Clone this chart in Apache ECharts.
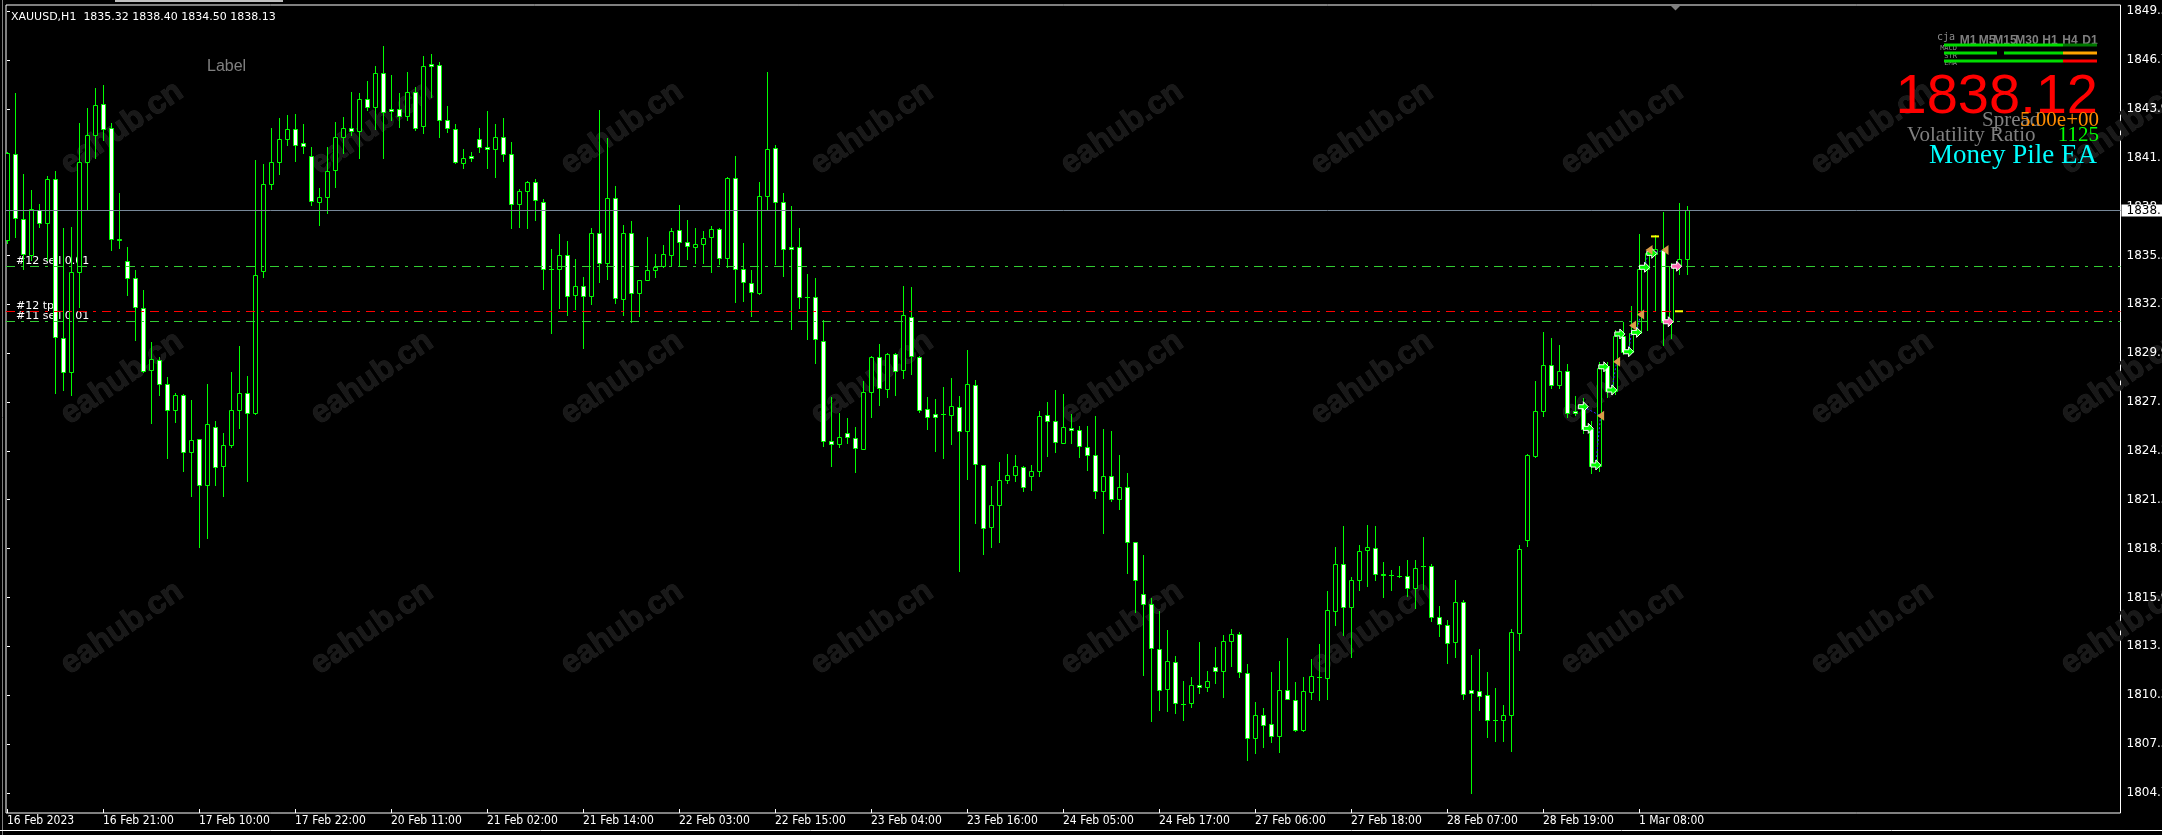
<!DOCTYPE html>
<html><head><meta charset="utf-8">
<script src="https://cdn.jsdelivr.net/npm/echarts@6/dist/echarts.min.js"></script>
<style>html,body{margin:0;padding:0;background:#000;overflow:hidden}#c{width:2162px;height:835px}</style>
</head><body><div id="c"></div>
<script>
// ---------------- DATA ----------------
const symbolName = 'XAUUSD,H1';
const opens = [
1836.43,1841.34,1837.65,1835.57,1838.17,1837.42,1839.91,1830.83,1828.85,1834.62,
1840.92,1842.43,1844.20,1842.83,1836.51,1835.21,1834.27,1832.51,1828.96,1829.57,
1828.21,1826.72,1827.53,1824.26,1825.01,1822.37,1825.73,1823.50,1824.68,1826.72,
1827.64,1826.50,1834.65,1839.62,1840.88,1842.20,1842.81,1841.97,1841.26,1838.64,
1838.87,1840.42,1842.33,1842.83,1842.68,1844.49,1844.05,1845.98,1843.92,1843.92,
1843.55,1844.93,1842.96,1846.50,1846.44,1843.29,1842.81,1840.82,1841.22,1842.24,
1841.74,1841.62,1842.31,1841.38,1838.47,1839.22,1839.77,1838.63,1834.80,1834.80,
1835.55,1833.26,1833.81,1833.20,1836.81,1835.09,1838.82,1833.03,1836.81,1833.37,
1834.17,1834.71,1834.96,1835.55,1836.98,1836.30,1836.05,1836.18,1836.58,1837.04,
1835.38,1839.98,1834.79,1833.98,1833.37,1838.97,1841.68,1838.59,1836.05,1836.05,
1833.18,1833.18,1830.66,1824.93,1824.72,1825.39,1825.11,1824.47,1827.70,1829.71,
1827.88,1829.88,1828.96,1832.04,1829.75,1826.73,1826.44,1826.44,1826.42,1826.84,
1825.47,1828.10,1823.52,1819.97,1821.23,1822.66,1822.95,1823.41,1822.89,1823.21,
1826.39,1826.08,1824.82,1825.68,1825.53,1824.59,1824.09,1822.05,1822.89,1821.57,
1822.26,1819.11,1816.13,1815.55,1813.00,1810.68,1812.23,1809.84,1809.88,1810.93,
1810.80,1811.96,1811.73,1813.45,1813.84,1811.64,1807.88,1809.19,1808.68,1808.01,
1810.64,1810.05,1808.37,1810.52,1811.41,1811.32,1815.17,1817.89,1815.40,1816.98,
1818.66,1818.80,1817.32,1817.21,1817.16,1817.16,1816.48,1817.75,1817.75,1814.85,
1814.38,1813.40,1815.71,1810.62,1810.59,1810.39,1808.94,1808.94,1809.23,1813.92,
1819.27,1824.08,1826.66,1829.27,1828.15,1828.93,1826.66,1826.84,1825.59,1823.51,
1829.22,1827.79,1830.96,1830.01,1831.12,1834.77,1835.63,1835.84,1831.71,1834.93,
1835.32];
const highs = [
1841.49,1844.83,1840.19,1839.29,1838.49,1840.10,1840.38,1837.15,1837.19,1843.11,
1843.97,1845.12,1845.31,1843.11,1839.10,1836.01,1834.71,1833.56,1830.60,1829.74,
1828.60,1827.68,1827.60,1827.26,1825.05,1828.16,1826.06,1825.35,1828.85,1830.35,
1828.64,1841.01,1840.78,1842.83,1843.40,1843.59,1843.65,1843.08,1841.74,1839.39,
1841.78,1843.21,1843.46,1844.89,1844.87,1845.56,1846.40,1847.57,1845.88,1844.83,
1846.04,1845.22,1846.97,1847.09,1846.63,1844.11,1843.08,1841.64,1841.47,1842.85,
1843.82,1843.08,1843.40,1842.05,1839.33,1839.83,1839.91,1838.80,1835.89,1836.75,
1836.37,1835.32,1834.29,1837.15,1843.88,1842.29,1839.52,1837.29,1837.52,1834.16,
1836.60,1835.63,1836.14,1837.15,1838.45,1837.57,1837.15,1836.94,1837.23,1837.14,
1840.06,1841.24,1836.28,1834.71,1839.73,1846.06,1841.87,1839.10,1838.38,1837.14,
1834.48,1834.23,1831.85,1827.41,1826.50,1826.21,1825.70,1828.35,1829.79,1830.45,
1829.94,1829.95,1833.80,1833.72,1829.79,1827.42,1827.32,1828.01,1828.51,1827.49,
1830.13,1828.41,1823.55,1822.34,1823.71,1824.17,1824.11,1823.48,1823.54,1826.63,
1827.13,1827.84,1827.61,1826.46,1825.79,1825.79,1826.35,1825.60,1825.49,1824.11,
1823.08,1819.15,1818.38,1815.90,1815.17,1814.08,1812.59,1811.16,1811.41,1813.40,
1811.75,1813.13,1813.80,1814.14,1813.95,1812.12,1809.96,1809.61,1811.68,1812.33,
1813.65,1811.09,1811.39,1812.45,1813.31,1816.30,1818.84,1820.06,1817.10,1818.95,
1820.09,1820.02,1818.00,1817.50,1817.75,1818.12,1818.07,1819.41,1817.89,1815.49,
1814.65,1816.94,1815.80,1812.68,1813.00,1811.70,1810.77,1809.78,1814.15,1818.98,
1824.15,1828.36,1831.15,1830.81,1830.42,1829.33,1827.52,1827.36,1826.05,1829.45,
1829.45,1831.26,1831.71,1832.66,1836.77,1835.79,1836.70,1838.01,1835.11,1838.56,
1838.40];
const lows = [
1836.24,1836.62,1834.75,1835.28,1837.19,1835.28,1827.64,1827.83,1827.55,1832.61,
1838.15,1841.11,1842.16,1835.86,1835.95,1833.28,1830.70,1828.88,1825.92,1827.55,
1823.92,1826.02,1823.19,1821.76,1818.85,1819.33,1822.42,1821.76,1824.55,1825.64,
1822.62,1826.45,1834.29,1839.35,1840.21,1841.87,1840.98,1841.40,1838.42,1837.29,
1837.99,1839.49,1841.43,1842.45,1841.15,1843.88,1842.77,1841.15,1843.31,1842.89,
1843.31,1842.73,1842.58,1844.60,1842.35,1842.64,1840.82,1840.54,1840.98,1841.49,
1840.54,1840.06,1840.98,1837.15,1837.19,1837.10,1837.57,1833.60,1831.08,1832.51,
1832.13,1832.46,1830.22,1832.74,1834.04,1834.19,1832.80,1832.13,1831.75,1832.09,
1834.16,1834.33,1834.86,1834.98,1834.98,1835.36,1835.13,1835.13,1834.61,1835.05,
1834.90,1832.89,1832.93,1832.09,1833.33,1838.22,1835.05,1834.38,1831.35,1832.55,
1830.74,1829.36,1824.64,1823.50,1824.58,1824.78,1823.16,1824.46,1826.31,1826.98,
1827.45,1827.55,1828.54,1828.75,1826.56,1825.60,1824.36,1823.92,1824.74,1817.48,
1822.76,1820.23,1818.42,1818.86,1819.15,1822.53,1822.62,1822.07,1822.11,1822.91,
1824.07,1824.30,1824.78,1824.82,1824.02,1823.25,1821.67,1819.66,1821.50,1821.00,
1817.33,1815.13,1811.50,1808.89,1809.50,1809.46,1809.31,1808.93,1809.65,1810.49,
1810.61,1811.07,1810.26,1812.04,1811.41,1806.63,1807.02,1807.36,1807.65,1807.11,
1810.12,1808.30,1808.30,1810.14,1810.05,1810.12,1814.35,1813.81,1812.56,1816.35,
1816.62,1816.98,1815.96,1816.39,1817.12,1816.03,1815.33,1816.42,1814.60,1813.77,
1812.18,1812.56,1810.14,1804.75,1809.51,1807.96,1807.74,1807.74,1807.17,1812.95,
1818.90,1824.01,1826.34,1827.97,1827.93,1826.27,1826.39,1825.37,1823.06,1823.21,
1827.41,1827.63,1829.90,1829.95,1831.10,1831.30,1832.44,1830.40,1830.81,1834.48,
1834.50];
const closes = [
1841.40,1837.67,1835.63,1838.19,1837.40,1839.91,1830.85,1828.85,1834.58,1840.92,
1842.43,1844.15,1842.77,1836.47,1836.41,1834.23,1832.57,1828.94,1829.59,1828.21,
1826.72,1827.53,1824.26,1824.97,1822.37,1825.87,1823.44,1824.66,1826.72,1827.64,
1826.50,1834.40,1839.62,1840.88,1842.20,1842.77,1841.85,1841.82,1838.68,1838.87,
1840.40,1842.31,1842.83,1842.68,1844.49,1844.05,1846.02,1843.76,1843.80,1843.53,
1844.89,1842.87,1846.40,1846.38,1843.29,1842.83,1840.88,1841.11,1841.13,1841.74,
1841.64,1842.31,1841.39,1838.49,1839.22,1839.73,1838.72,1834.80,1834.75,1835.55,
1833.20,1833.81,1833.20,1836.81,1835.09,1838.82,1833.09,1836.81,1833.37,1834.14,
1834.71,1834.90,1835.61,1836.93,1836.30,1836.07,1836.18,1836.52,1837.04,1835.38,
1839.98,1834.80,1834.00,1833.43,1838.95,1841.64,1838.64,1835.89,1835.91,1833.14,
1833.14,1830.76,1824.91,1824.72,1825.12,1825.16,1824.49,1827.70,1829.71,1827.93,
1829.88,1828.93,1832.12,1829.77,1826.67,1826.27,1826.29,1826.44,1826.92,1825.47,
1828.16,1823.58,1819.93,1821.23,1822.68,1822.95,1823.46,1822.26,1823.18,1826.35,
1826.04,1824.84,1825.70,1825.53,1824.61,1824.09,1822.05,1822.89,1821.57,1822.26,
1819.11,1816.95,1815.57,1813.03,1810.65,1812.29,1809.88,1809.84,1810.93,1810.80,
1811.16,1811.71,1813.45,1813.85,1811.68,1807.89,1809.19,1808.64,1808.01,1810.65,
1810.14,1808.37,1810.57,1811.43,1811.41,1815.22,1817.84,1815.40,1816.94,1818.64,
1818.84,1817.32,1817.21,1817.21,1817.16,1816.48,1817.66,1817.75,1814.85,1814.42,
1813.34,1815.71,1810.41,1810.46,1810.28,1808.91,1808.94,1809.23,1813.99,1818.75,
1824.12,1826.61,1829.27,1828.15,1828.95,1826.50,1826.50,1825.59,1823.51,1829.11,
1827.79,1830.96,1830.01,1831.12,1834.77,1835.68,1835.90,1831.71,1834.93,1835.32,
1838.13];
const timeLabels = ['16 Feb 2023','16 Feb 21:00','17 Feb 10:00','17 Feb 22:00','20 Feb 11:00','21 Feb 02:00',
  '21 Feb 14:00','22 Feb 03:00','22 Feb 15:00','23 Feb 04:00','23 Feb 16:00','24 Feb 05:00','24 Feb 17:00',
  '27 Feb 06:00','27 Feb 18:00','28 Feb 07:00','28 Feb 19:00','1 Mar 08:00'];
const barsPerLabel = 12;
const priceTicks = [1804.75,1807.55,1810.35,1813.15,1815.95,1818.75,1821.55,1824.35,1827.15,1829.95,
  1832.75,1835.55,1838.35,1841.15,1843.95,1846.75,1849.55];
const bidPrice = 1838.13;
const orderLevels = [1834.92, 1832.34, 1831.76];
const orderLevelColors = ['#32CD32', '#FF0000', '#32CD32'];
const orderTexts = ['#12 sell 0.01', '#12 tp', '#11 sell 0.01'];
const openArrows = [[197.04,1826.88],[197.66,1825.64],[198.6,1823.54],[199.6,1829.17],[200.6,1827.84],
  [201.6,1831.05],[202.7,1830.03],[203.7,1831.14],[204.7,1834.87],[205.6,1835.67]];
const closeArrows = [[199.2,1826.36],[201.2,1829.46],[203.2,1831.54],[204.2,1832.17],[205.25,1835.86],[207.25,1835.86]];
const pinkArrows = [[207.66,1831.75],[208.7,1834.93]];
const yellowTicks = [[206.0,1836.64],[209.0,1832.35]];
const tradeLinks = [[0,0],[2,0],[4,1],[6,2],[7,3],[8,4],[9,5]];
const headerOHLC = [1835.32, 1838.40, 1834.50, 1838.13];
const panelPrice = '1838.12';
const spreadText = '5.00e+00';
const volRatio = '1125';
const tfLabels = ['M1','M5','M15','M30','H1','H4','D1'];

// ---------------- LAYOUT ----------------
const W = 2162, H = 835;
const gridLeft = 6, gridTop = 5, gridRight = 2120.5, gridBottom = 813;
const barPx = 8;
const xMin = -0.125;
const xMax = xMin + (gridRight - gridLeft) / barPx;
const yMin = 1803.60, yMax = 1849.90;

const candleData = opens.map((o, i) => [i, o, closes[i], lows[i], highs[i]]);
const labelIdx = timeLabels.map((_, k) => k * barsPerLabel);

function renderCandle(params, api) {
  const i = api.value(0), o = api.value(1), c = api.value(2), l = api.value(3), h = api.value(4);
  const pO = api.coord([i, o]), pC = api.coord([i, c]), pL = api.coord([i, l]), pH = api.coord([i, h]);
  const cx = Math.round(pO[0]);
  const yTop = Math.round(Math.min(pO[1], pC[1]));
  const yBot = Math.round(Math.max(pO[1], pC[1]));
  const green = '#00FF00';
  const kids = [{
    type: 'line',
    shape: { x1: cx + 0.5, y1: Math.round(pH[1]), x2: cx + 0.5, y2: Math.round(pL[1]) + 1 },
    style: { stroke: green, lineWidth: 1 }
  }];
  if (yBot - yTop < 1) {
    kids.push({ type: 'line', shape: { x1: cx - 2, y1: yTop + 0.5, x2: cx + 3, y2: yTop + 0.5 },
      style: { stroke: green, lineWidth: 1 } });
  } else {
    kids.push({ type: 'rect', shape: { x: cx - 1.5, y: yTop + 0.5, width: 4, height: yBot - yTop },
      style: { fill: c >= o ? '#000000' : '#FFFFFF', stroke: green, lineWidth: 1 } });
  }
  return { type: 'group', children: kids };
}

// graphic decorations
const graphics = [];
// watermarks
for (let k = 0; k < 9; k++) {
  for (let r = 0; r < 3; r++) {
    graphics.push({ type: 'text', x: 122 + 250 * k, y: 128 + 250 * r, rotation: 0.6, z: 0,
      style: { text: 'eahub.cn', fill: '#191919', stroke: '#232323', lineWidth: 1,
        fontFamily: 'Liberation Sans', fontWeight: 'bold', fontSize: 32, align: 'center', verticalAlign: 'middle' } });
  }
}
// header
graphics.push({ type: 'text', x: 11, y: 17, z: 5, style: {
  text: symbolName + '  ' + headerOHLC.map(v => v.toFixed(2)).join(' '),
  fill: '#FFFFFF', fontFamily: 'DejaVu Sans', fontSize: 11, align: 'left', verticalAlign: 'middle' } });
graphics.push({ type: 'text', x: 207, y: 67, z: 5, style: { text: 'Label', fill: '#808080',
  fontFamily: 'Liberation Sans', fontSize: 16, align: 'left', verticalAlign: 'middle' } });
// order texts (under candles)
const orderTextY = [261, 305.7, 315.7];
orderTexts.forEach((t, j) => graphics.push({ type: 'text', x: 16, y: orderTextY[j], z: 0, style: {
  text: t, fill: '#FFFFFF', fontFamily: 'DejaVu Sans', fontSize: 11, align: 'left', verticalAlign: 'middle' } }));
// chart shift marker
graphics.push({ type: 'polygon', z: 5, shape: { points: [[1670, 5], [1681, 5], [1675.5, 10.5]] }, style: { fill: '#808080' } });
// window chrome
graphics.push({ type: 'line', z: 5, shape: { x1: 2.5, y1: 0, x2: 2.5, y2: 835 }, style: { stroke: '#808080', lineWidth: 1 } });
graphics.push({ type: 'line', z: 5, shape: { x1: 0, y1: 830.5, x2: W, y2: 830.5 }, style: { stroke: '#FFFFFF', lineWidth: 1 } });
graphics.push({ type: 'rect', z: 5, shape: { x: 115, y: 0, width: 168, height: 2 }, style: { fill: '#C0C0C0' } });
// EA panel
const tfX = [1968, 1987, 2005, 2027, 2050, 2070, 2090];
tfLabels.forEach((t, j) => graphics.push({ type: 'text', x: tfX[j], y: 40.5, z: 6, style: {
  text: t, fill: '#7F7F7F', fontFamily: 'Liberation Sans', fontWeight: 'bold', fontSize: 12, align: 'center', verticalAlign: 'middle' } }));
graphics.push({ type: 'text', x: 1937, y: 37, z: 6, style: { text: 'cja', fill: '#8a8a8a',
  fontFamily: 'DejaVu Sans Mono', fontSize: 10, align: 'left', verticalAlign: 'middle' } });
[['MACD', 48.5], ['STR', 56], ['EMA', 63.5]].forEach(([t, y]) => graphics.push({ type: 'text', x: 1957, y: y, z: 6,
  style: { text: t, fill: '#8a8a8a', fontFamily: 'DejaVu Sans Mono', fontSize: 7, align: 'right', verticalAlign: 'middle' } }));
const barRows = [
  [[1944, 2063, '#00DD00'], [2063, 2097, '#007A00']],
  [[1944, 1997, '#00DD00'], [2004, 2063, '#00DD00'], [2063, 2097, '#FFA500']],
  [[1944, 2063, '#00DD00'], [2063, 2097, '#FF0000']]
];
const barRowY = [43.5, 51.5, 59.5];
barRows.forEach((row, r) => row.forEach(([a, b, col]) => graphics.push({ type: 'rect', z: 6,
  shape: { x: a, y: barRowY[r], width: b - a, height: 3 }, style: { fill: col } })));
graphics.push({ type: 'text', x: 2098, y: 98, z: 6, style: { text: panelPrice, fill: '#FF0000',
  fontFamily: 'Liberation Sans', fontSize: 56, align: 'right', verticalAlign: 'middle' } });
graphics.push({ type: 'text', x: 1982, y: 120.5, z: 6, style: { text: 'Spread', fill: '#808080',
  fontFamily: 'Liberation Serif', fontSize: 21, align: 'left', verticalAlign: 'middle' } });
graphics.push({ type: 'text', x: 2099, y: 120.5, z: 7, style: { text: spreadText, fill: '#FF8C00',
  fontFamily: 'Liberation Serif', fontSize: 21, align: 'right', verticalAlign: 'middle' } });
graphics.push({ type: 'text', x: 1907, y: 135.5, z: 6, style: { text: 'Volatility Ratio', fill: '#808080',
  fontFamily: 'Liberation Serif', fontSize: 21, align: 'left', verticalAlign: 'middle' } });
graphics.push({ type: 'text', x: 2099, y: 135.5, z: 7, style: { text: volRatio, fill: '#00FF00',
  fontFamily: 'Liberation Serif', fontSize: 21, align: 'right', verticalAlign: 'middle' } });
graphics.push({ type: 'text', x: 2097, y: 155.5, z: 6, style: { text: 'Money Pile EA', fill: '#00FFFF',
  fontFamily: 'Liberation Serif', fontSize: 27, align: 'right', verticalAlign: 'middle' } });

// level lines
const levelMarks = orderLevels.map((v, j) => ({ yAxis: v, lineStyle: { color: orderLevelColors[j], width: 1, type: [9, 6, 3, 6] }, label: { show: false } }));
levelMarks.push({ yAxis: bidPrice, lineStyle: { color: '#778899', width: 1, type: 'solid' },
  label: { show: true, position: 'end', distance: 1, formatter: bidPrice.toFixed(2), color: '#000', backgroundColor: '#FFFFFF',
    fontFamily: 'DejaVu Sans', fontSize: 12, lineHeight: 12, padding: [0, 4, 0, 5] } });

const arrowPath = 'path://M0,3L5,3L5,0L10,5L5,10L5,7L0,7Z';
const series = [
  { type: 'line', z: 1, data: [], silent: true, animation: false,
    markLine: { silent: true, symbol: ['none', 'none'], animation: false, data: levelMarks } },
  { type: 'custom', z: 3, clip: true, animation: false, renderItem: renderCandle,
    encode: { x: 0, y: [1, 2, 3, 4] }, data: candleData }
];
tradeLinks.forEach(([a, b]) => series.push({ type: 'line', z: 4, silent: true, animation: false, symbol: 'none',
  data: [openArrows[a], closeArrows[b]], lineStyle: { color: '#3030FF', width: 1, type: [2, 2] } }));
series.push({ type: 'scatter', z: 5, silent: true, animation: false, symbol: arrowPath, symbolSize: [10, 10],
  itemStyle: { color: '#00FF00', borderColor: '#FFFFFF', borderWidth: 1, opacity: 1 }, data: openArrows });
series.push({ type: 'scatter', z: 5, silent: true, animation: false, symbol: 'path://M8,0L0,5L8,10Z', symbolSize: [7, 10],
  itemStyle: { color: '#D99A48', opacity: 1 }, data: closeArrows });
series.push({ type: 'scatter', z: 5, silent: true, animation: false, symbol: arrowPath, symbolSize: [10, 10],
  itemStyle: { color: '#FF69B4', borderColor: '#FFFFFF', borderWidth: 1, opacity: 1 }, data: pinkArrows });
series.push({ type: 'scatter', z: 5, silent: true, animation: false, symbol: 'rect', symbolSize: [8, 2],
  itemStyle: { color: '#FFFF00', opacity: 1 }, data: yellowTicks });

const chart = echarts.init(document.getElementById('c'), null, { renderer: 'canvas', width: W, height: H });
chart.setOption({
  backgroundColor: '#000000',
  animation: false,
  grid: { left: gridLeft, top: gridTop, width: gridRight - gridLeft, height: gridBottom - gridTop,
    show: true, borderColor: '#FFFFFF', borderWidth: 1, backgroundColor: 'transparent',
    containLabel: false, outerBoundsMode: 'none' },
  xAxis: { type: 'value', min: xMin, max: xMax, splitLine: { show: false }, axisLine: { show: false },
    axisTick: { show: true, inside: true, length: 4, customValues: labelIdx, lineStyle: { color: '#FFFFFF' } },
    axisLabel: { show: true, customValues: labelIdx, formatter: v => timeLabels[Math.round(v / barsPerLabel)],
      color: '#FFFFFF', align: 'left', margin: 2, fontSize: 12, lineHeight: 12,
      fontFamily: "'Liberation Sans Narrow', 'DejaVu Sans Condensed', 'Liberation Sans'" } },
  yAxis: { type: 'value', position: 'right', min: yMin, max: yMax, scale: true, splitLine: { show: false },
    axisLine: { show: false },
    axisTick: { show: true, length: 3, customValues: priceTicks, lineStyle: { color: '#FFFFFF' } },
    axisLabel: { show: true, customValues: priceTicks, formatter: v => v.toFixed(2), color: '#FFFFFF',
      fontFamily: 'DejaVu Sans', fontSize: 12, margin: 6, align: 'left' } },
  graphic: { elements: graphics },
  series: series
});
</script></body></html>
